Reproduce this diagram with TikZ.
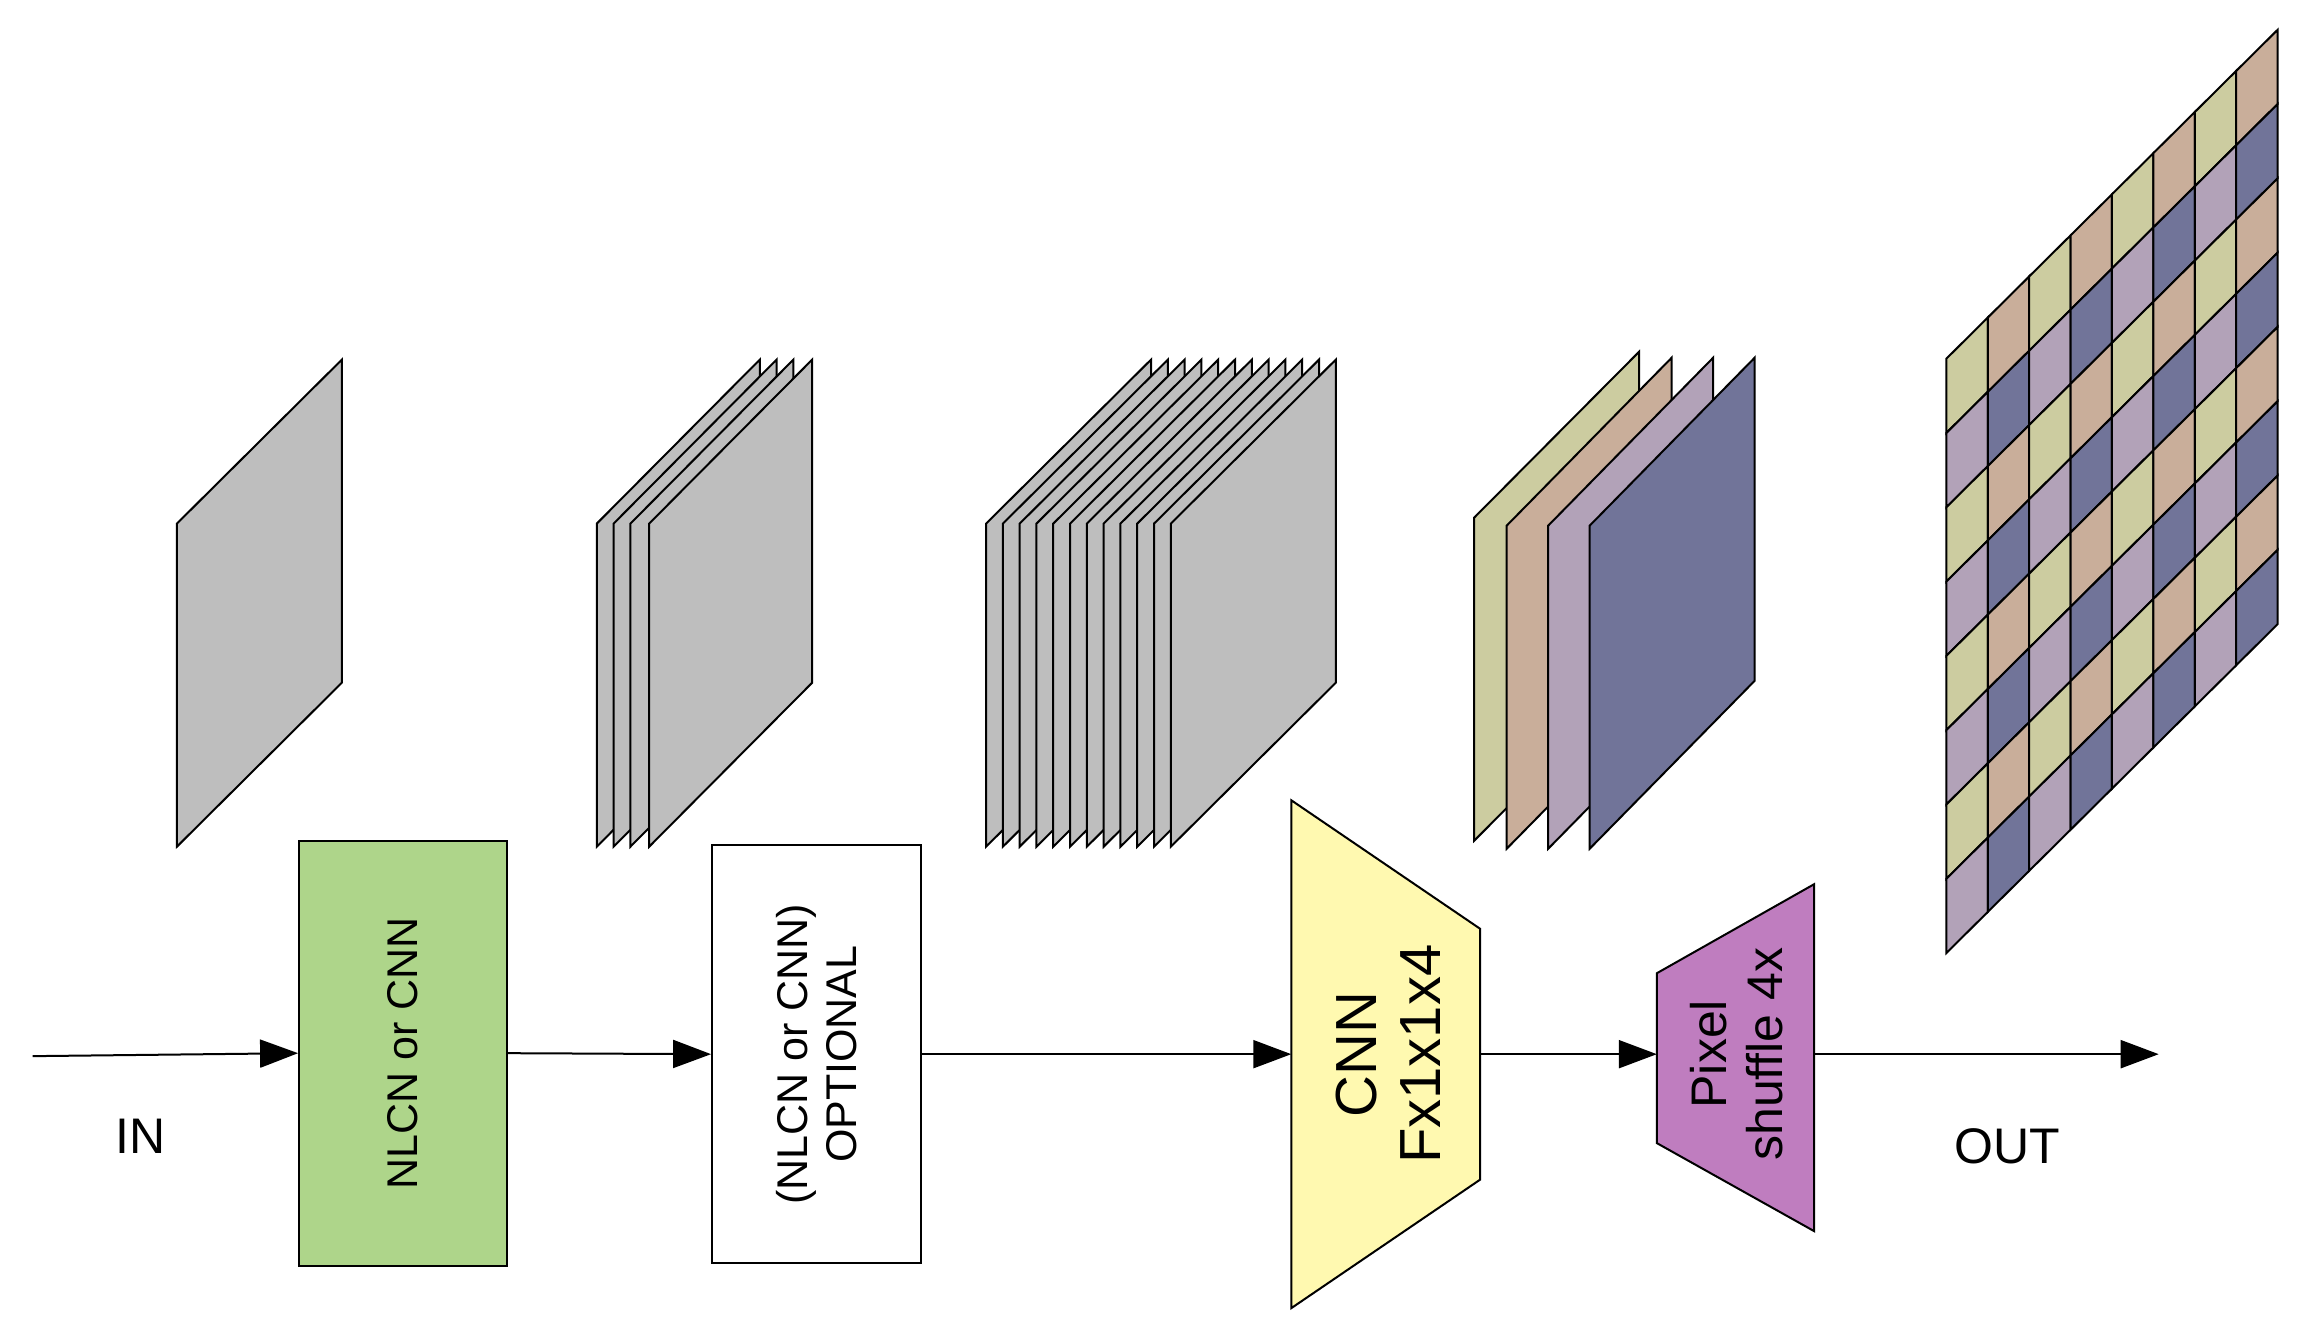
\documentclass[tikz,border=0pt]{standalone}
\usepackage{fontspec}
\setmainfont{Liberation Sans}
\usetikzlibrary{arrows.meta}
\definecolor{khaki}{HTML}{CCCCA0}
\definecolor{tan}{HTML}{C9AE9A}
\definecolor{lilac}{HTML}{B2A2B8}
\definecolor{bluegray}{HTML}{717499}
\definecolor{plgray}{HTML}{BEBEBE}
\definecolor{boxgreen}{HTML}{AED58A}
\definecolor{boxyellow}{HTML}{FFF9B0}
\definecolor{boxpink}{HTML}{BF7DBF}
\newcommand{\myplane}[6]{%
  \draw[plane,fill=#6] (#1,#3) -- ({#1+#2},{#3-#4}) -- ({#1+#2},{#3-#4+#5}) -- (#1,{#3+#5}) -- cycle;}
\begin{document}
\begin{tikzpicture}[x=1pt,y=-1pt,
  plane/.style={draw=black,line width=2pt,line join=miter},
  box/.style={draw=black,line width=2pt,inner sep=0pt},
  lbl/.style={font=\fontsize{43}{49}\selectfont,align=center,rotate=90},
  big/.style={font=\fontsize{58}{64}\selectfont,align=center,rotate=90},
  conn/.style={line width=2pt,-{Triangle[length=38pt,width=28pt]}},
  txt/.style={font=\fontsize{50}{56}\selectfont}]
\useasboundingbox (0,0) rectangle (2313,1336);
\begin{scope}[scale=0.988]
% single plane
\myplane{179}{167}{530}{166}{327}{plgray}
% stack of 4
\foreach \l in {604,621,638,657} {\myplane{\l}{165}{530}{166}{327}{plgray}}
% stack of 12
\foreach \i in {0,...,11} {\pgfmathsetmacro\l{998+17*\i}\myplane{\l}{167}{530}{166}{327}{plgray}}
% coloured stack
\myplane{1492}{167}{524}{168}{327}{khaki}
\myplane{1525}{167}{532}{170}{327}{tan}
\myplane{1567}{167}{532}{170}{327}{lilac}
\myplane{1609}{167}{532}{170}{327}{bluegray}
% output grid
\foreach \c in {0,...,7} {\foreach \r in {0,...,7} {
  \pgfmathsetmacro\xa{1970+41.9*\c}
  \pgfmathsetmacro\ya{363-41.6*\c+75.2*\r}
  \pgfmathparse{int(mod(\c,2)*2+mod(\r,2))}
  \ifcase\pgfmathresult\def\cl{khaki}\or\def\cl{lilac}\or\def\cl{tan}\else\def\cl{bluegray}\fi
  \draw[plane,fill=\cl] (\xa,\ya) -- ({\xa+41.9},{\ya-41.6}) -- ({\xa+41.9},{\ya-41.6+75.2}) -- (\xa,{\ya+75.2}) -- cycle;
}}
% boxes
\node[box,fill=boxgreen,minimum width=208pt,minimum height=425pt] (g) at (408,1066) {};
\node[lbl] (gt) at (g.center) {NLCN or CNN};
\node[box,fill=white,minimum width=209pt,minimum height=418pt] (w) at (826.5,1067) {};
\node[lbl] (wt) at (w.center) {(NLCN or CNN)\\OPTIONAL};
\draw[box,fill=boxyellow] (1307,810) -- (1498,940) -- (1498,1194) -- (1307,1324) -- cycle;
\coordinate (yl) at (1307,1067); \coordinate (yr) at (1498,1067);
\node[big] (yt) at (1405,1067) {CNN\\Fx1x1x4};
\draw[box,fill=boxpink] (1677,985) -- (1836,895) -- (1836,1246) -- (1677,1157) -- cycle;
\coordinate (pl) at (1677,1067); \coordinate (pr) at (1836,1067);
\node[lbl,font=\fontsize{50}{56}\selectfont] (pt) at (1758,1067) {Pixel\\shuffle 4x};
% connectors
\coordinate (in) at (33,1069);
\coordinate (out) at (2185,1067);
\draw[conn] (in) -- (g.west);
\draw[conn] (g.east) -- (w.west);
\draw[conn] (w.east) -- (yl);
\draw[conn] (yr) -- (pl);
\draw[conn] (pr) -- (out);
\node[txt] (intxt) at (142,1150) {IN};
\node[txt] (outtxt) at (2032,1160) {OUT};
\end{scope}
\end{tikzpicture}
\end{document}
